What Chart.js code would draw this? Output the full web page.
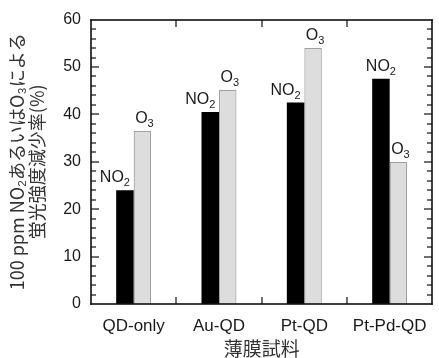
<!DOCTYPE html>
<html>
<head>
<meta charset="utf-8">
<script src="https://cdn.jsdelivr.net/npm/chart.js@4"></script>
<style>
  html, body { margin: 0; padding: 0; background: #fff; }
  #wrap { width: 439px; height: 358px; }
</style>
</head>
<body>
<div id="wrap"><canvas id="chart"></canvas></div>
<script>
const categories = ['QD-only', 'Au-QD', 'Pt-QD', 'Pt-Pd-QD'];
const no2Values = [24, 40.5, 42.5, 47.5];
const o3Values = [36.5, 45.2, 54, 30];
const yTicks = [0, 10, 20, 30, 40, 50, 60];

const FONT = "'Liberation Sans', Arial, 'Noto Sans CJK JP', sans-serif";
const JP_FONT = "'Noto Sans CJK JP', 'Liberation Sans', sans-serif";

// box and inward ticks, drawn with fillRect
function drawFrame (chart) {
  const ctx = chart.ctx;
  const a = chart.chartArea;
  const x = chart.scales.x;
  const y = chart.scales.y;
  const L = Math.round(a.left), R = Math.round(a.right);
  const T = Math.round(a.top), B = Math.round(a.bottom);
  ctx.save();
  ctx.fillStyle = '#111';
  for (let v = 2; v < 60; v += 2) {
    const py = Math.round(y.getPixelForValue(v));
    const len = v % 10 === 0 ? 8 : 5;
    ctx.fillRect(L, py - 0.6, len, 1.2);
    ctx.fillRect(R - len, py - 0.6, len, 1.2);
  }
  for (let i = 1; i < categories.length; i++) {
    const px = Math.round((x.getPixelForValue(i - 1) + x.getPixelForValue(i)) / 2);
    ctx.fillRect(px - 0.6, B - 7, 1.2, 7);
    ctx.fillRect(px - 0.6, T, 1.2, 7);
  }
  const w = 1.6;
  ctx.fillRect(L - w / 2, T - w / 2, R - L + w, w);
  ctx.fillRect(L - w / 2, B - w / 2, R - L + w, w);
  ctx.fillRect(L - w / 2, T - w / 2, w, B - T + w);
  ctx.fillRect(R - w / 2, T - w / 2, w, B - T + w);
  ctx.restore();
}

// NO2 / O3 labels with subscripts above each bar
function drawLabels (chart) {
  const ctx = chart.ctx;
  ctx.save();
  ctx.fillStyle = '#1a1a1a';
  ctx.textBaseline = 'alphabetic';
  chart.data.datasets.forEach((ds, di) => {
    const meta = chart.getDatasetMeta(di);
    meta.data.forEach((bar, i) => {
      const other = di === 0 ? o3Values[i] : no2Values[i];
      let shift = 0;
      if (di === 0 && other > ds.data[i]) shift = -10;
      if (di === 1) shift = 2;
      ctx.font = '16px ' + FONT;
      const wMain = ctx.measureText(ds.sym).width;
      ctx.font = '11px ' + FONT;
      const wSub = ctx.measureText(ds.sub).width;
      const x0 = bar.x + shift - (wMain + wSub) / 2;
      const yb = bar.y - 8;
      ctx.font = '16px ' + FONT;
      ctx.fillText(ds.sym, x0, yb);
      ctx.font = '11px ' + FONT;
      ctx.fillText(ds.sub, x0 + wMain, yb + 4);
    });
  });
  ctx.restore();
}

const decor = {
  id: 'decor',
  afterDraw (chart) {
    drawFrame(chart);
    drawLabels(chart);
  }
};

new Chart(document.getElementById('chart'), {
  type: 'bar',
  data: {
    labels: categories,
    datasets: [
      {
        label: 'NO2', sym: 'NO', sub: '2',
        data: no2Values,
        backgroundColor: '#000',
        borderColor: '#000',
        borderWidth: 0
      },
      {
        label: 'O3', sym: 'O', sub: '3',
        data: o3Values,
        backgroundColor: '#dcdddc',
        borderColor: '#a0a0a0',
        borderWidth: 1.2
      }
    ]
  },
  options: {
    responsive: true,
    maintainAspectRatio: false,
    animation: false,
    devicePixelRatio: 1,
    layout: { padding: { top: 17, right: 4, left: 0, bottom: 0 } },
    categoryPercentage: 0.41,
    barPercentage: 1,
    plugins: {
      legend: { display: false },
      tooltip: { enabled: false }
    },
    scales: {
      x: {
        afterFit (s) { s.height = 54; },
        grid: { display: false, drawTicks: false },
        border: { display: false },
        ticks: {
          color: '#1a1a1a',
          font: { family: FONT, size: 17 },
          padding: 12
        },
        title: {
          display: true,
          text: '薄膜試料',
          color: '#333',
          font: { family: JP_FONT, size: 19, lineHeight: 1.0 },
          padding: { top: 0, bottom: 0 }
        }
      },
      y: {
        min: 0,
        max: 60,
        afterFit (s) { s.width = 91; },
        afterBuildTicks (s) { s.ticks = yTicks.map(v => ({ value: v })); },
        grid: { display: false, drawTicks: false },
        border: { display: false },
        ticks: {
          color: '#1a1a1a',
          font: { family: FONT, size: 16 },
          padding: 10
        },
        title: {
          display: true,
          text: ['100 ppm NO₂あるいはO₃による', '蛍光強度減少率(%)'],
          color: '#333',
          font: { family: JP_FONT, size: 18, lineHeight: 1.1 },
          padding: { top: 7, bottom: 0 }
        }
      }
    }
  },
  plugins: [decor]
});
</script>
</body>
</html>
